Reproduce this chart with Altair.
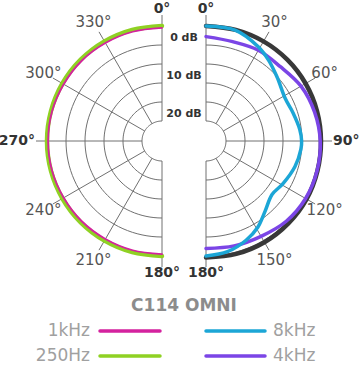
import altair as alt
import pandas as pd

# ---------------- data ----------------
ANG_LEFT = [180, 195, 210, 225, 240, 255, 270, 285, 300, 315, 330, 345, 360]
DB_250HZ = [0.0, 0.0, 0.0, 0.0, 0.0, 0.0, 0.0, 0.0, 0.0, 0.0, 0.0, 0.0, 0.0]
DB_1KHZ = [-0.5, -0.5, -0.5, -0.4, -0.4, -0.3, -0.3, -0.3, -0.4, -0.4, -0.5, -0.5, -0.5]

ANG_RIGHT = [0, 15, 30, 45, 60, 75, 90, 105, 120, 135, 150, 165, 180]
DB_4KHZ = [-2.8, -3.2, -2.7, -2.6, -1.4, -0.7, -0.2, 0.0, 0.0, -0.4, -1.3, -1.7, -2.0]
DB_REF = [0.0, 0.0, 0.0, 0.0, 0.0, 0.0, 0.0, 0.1, 0.3, 0.4, 0.5, 0.5, 0.4]

ANG_8KHZ = [0, 15, 29, 38, 48, 62, 72, 83, 90, 95, 106, 119, 129, 140, 149, 158, 169, 180]
DB_8KHZ = [0.0, -0.1, -1.9, -3.4, -5.1, -6.6, -6.2, -5.4, -5.1, -5.2, -5.9, -7.1, -7.9,
           -6.1, -3.8, -2.1, -0.6, 0.0]

RING_DB = [0, -5, -10, -15, -20, -25]
SPOKES_LEFT = [180, 210, 240, 270, 300, 330, 360]
SPOKES_RIGHT = [0, 30, 60, 90, 120, 150, 180]
LABELS_LEFT = ["180°", "210°", "240°", "270°", "300°", "330°", "0°"]
LABELS_RIGHT = ["0°", "30°", "60°", "90°", "120°", "150°", "180°"]
DB_LABEL_TEXT = ["0 dB", "10 dB", "20 dB"]
DB_LABEL_LEVEL = [0, -10, -20]
TITLE = "C114 OMNI"

LEGEND_NAMES = ["1kHz", "250Hz", "8kHz", "4kHz"]
LEGEND_COLORS = ["#d4229e", "#8fd123", "#1ca6d6", "#7b45e6"]

# ---------------- layout constants ----------------
W, H = 362, 370
R0 = 115          # radius of 0 dB in px
PX_DB = 3.8       # px per dB
CX_OFF = 22       # half gap between halves
CY_TOP = 141      # centre y from top
XDOM = [-184, W - 184]
YDOM = [-(H - CY_TOP), CY_TOP]

xs = alt.Scale(domain=XDOM, nice=False, zero=False)
ys = alt.Scale(domain=YDOM, nice=False, zero=False)

polar_x = f"(datum.side == 'L' ? {-CX_OFF} : {CX_OFF}) + ({R0} + {PX_DB} * datum.db) * sin(datum.ang * PI / 180)"
polar_y = f"({R0} + {PX_DB} * datum.db) * cos(datum.ang * PI / 180)"
cxe = f"(datum.side == 'L' ? {-CX_OFF} : {CX_OFF})"

# ---------------- grid rings ----------------
ring_rows = []
for side, a0 in (("L", 180), ("R", 0)):
    for rdb in RING_DB:
        for k in range(0, 61):
            ring_rows.append({"side": side, "ring": rdb, "ang": a0 + 3 * k, "db": rdb, "k": k})
rings = alt.Chart(pd.DataFrame(ring_rows)).transform_calculate(
    px=polar_x, py=polar_y
).mark_line(color="#707070", strokeWidth=1).encode(
    x=alt.X("px:Q", scale=xs, axis=None),
    y=alt.Y("py:Q", scale=ys, axis=None),
    detail=["side:N", "ring:Q"],
    order="k:Q",
)

# ---------------- spokes ----------------
spoke_rows = []
for a in SPOKES_LEFT:
    spoke_rows.append({"side": "L", "ang": a})
for a in SPOKES_RIGHT:
    spoke_rows.append({"side": "R", "ang": a})
R_IN = R0 + PX_DB * RING_DB[-1]
R_OUT = 126
spokes = alt.Chart(pd.DataFrame(spoke_rows)).transform_calculate(
    x1=f"{cxe} + {R_IN} * sin(datum.ang * PI / 180)",
    y1=f"{R_IN} * cos(datum.ang * PI / 180)",
    x2=f"{cxe} + {R_OUT} * sin(datum.ang * PI / 180)",
    y2=f"{R_OUT} * cos(datum.ang * PI / 180)",
).mark_rule(color="#707070", strokeWidth=1).encode(
    x=alt.X("x1:Q", scale=xs, axis=None),
    y=alt.Y("y1:Q", scale=ys, axis=None),
    x2="x2:Q",
    y2="y2:Q",
)

# ---------------- angle labels ----------------
lab_rows = []
for a, t in zip(SPOKES_LEFT, LABELS_LEFT):
    lab_rows.append({"side": "L", "ang": a, "t": t})
for a, t in zip(SPOKES_RIGHT, LABELS_RIGHT):
    lab_rows.append({"side": "R", "ang": a, "t": t})
lab_df = pd.DataFrame(lab_rows)
lab_df["card"] = lab_df["ang"] % 90 == 0
lab_df["vert"] = lab_df["ang"] % 180 == 0

def label_layer(filter_expr, radius, align, weight, size, color):
    return alt.Chart(lab_df).transform_filter(filter_expr).transform_calculate(
        lx=f"{cxe} + {radius} * sin(datum.ang * PI / 180)",
        ly=f"{radius} * cos(datum.ang * PI / 180)",
    ).mark_text(align=align, baseline="middle", font="DejaVu Sans", fontSize=size,
                fontWeight=weight, color=color).encode(
        x=alt.X("lx:Q", scale=xs, axis=None),
        y=alt.Y("ly:Q", scale=ys, axis=None),
        text="t:N",
    )

lab_diag = label_layer("!datum.card", 137, "center", "normal", 15, "#555555")
lab_vert = label_layer("datum.vert", 132, "center", "bold", 14, "#333333")
lab_90 = label_layer("datum.card && !datum.vert && datum.side == 'R'", 127, "left", "bold", 14, "#333333")
lab_270 = label_layer("datum.card && !datum.vert && datum.side == 'L'", 127, "right", "bold", 14, "#333333")

# ---------------- dB labels ----------------
db_df = pd.DataFrame({"t": DB_LABEL_TEXT, "db": DB_LABEL_LEVEL})
db_labels = alt.Chart(db_df).transform_calculate(
    ly=f"{R0} + {PX_DB} * datum.db - 12", lx="0"
).mark_text(align="center", baseline="middle", font="DejaVu Sans", fontSize=11,
            fontWeight="bold", color="#333333").encode(
    x=alt.X("lx:Q", scale=xs, axis=None),
    y=alt.Y("ly:Q", scale=ys, axis=None),
    text="t:N",
)

# ---------------- response curves ----------------
def series_df(name, side, angs, dbs):
    return pd.DataFrame({"series": name, "side": side, "ang": angs, "db": dbs})

def curve(df, color, width):
    return alt.Chart(df).transform_calculate(px=polar_x, py=polar_y).mark_line(
        color=color, strokeWidth=width, interpolate="catmull-rom", strokeCap="round"
    ).encode(
        x=alt.X("px:Q", scale=xs, axis=None),
        y=alt.Y("py:Q", scale=ys, axis=None),
        order="ang:Q",
    )

c250 = curve(series_df("250Hz", "L", ANG_LEFT, DB_250HZ), "#8fd123", 4.5)
c1k = curve(series_df("1kHz", "L", ANG_LEFT, DB_1KHZ), "#d4229e", 1.8)
cref = curve(series_df("ref", "R", ANG_RIGHT, DB_REF), "#383838", 4.5)
c4k = curve(series_df("4kHz", "R", ANG_RIGHT, DB_4KHZ), "#7b45e6", 3.5)
c8k = curve(series_df("8kHz", "R", ANG_8KHZ, DB_8KHZ), "#1ca6d6", 3.5)

# ---------------- title ----------------
title = alt.Chart(pd.DataFrame({"t": [TITLE]})).transform_calculate(
    lx="0", ly="-165"
).mark_text(align="center", baseline="middle", font="DejaVu Sans", fontSize=17,
            fontWeight="bold", color="#8c8c8c").encode(
    x=alt.X("lx:Q", scale=xs, axis=None),
    y=alt.Y("ly:Q", scale=ys, axis=None),
    text="t:N",
)

# ---------------- legend ----------------
leg = pd.DataFrame({
    "name": LEGEND_NAMES,
    "color": LEGEND_COLORS,
    "col": [0, 0, 1, 1],
    "row": [0, 1, 0, 1],
})
leg["ly"] = -190 - 25 * leg["row"]
leg["lx1"] = leg["col"].map({0: -84, 1: 22})
leg["lx2"] = leg["col"].map({0: -24, 1: 81})
leg["tx"] = leg["col"].map({0: -94, 1: 89})

leg_lines = alt.Chart(leg).mark_rule(strokeWidth=3.5, strokeCap="round").encode(
    x=alt.X("lx1:Q", scale=xs, axis=None),
    x2="lx2:Q",
    y=alt.Y("ly:Q", scale=ys, axis=None),
    color=alt.Color("color:N", scale=None),
)
leg_text_l = alt.Chart(leg).transform_filter("datum.col == 0").mark_text(
    align="right", baseline="middle", font="DejaVu Sans", fontSize=17, color="#a0a0a0"
).encode(x=alt.X("tx:Q", scale=xs, axis=None), y=alt.Y("ly:Q", scale=ys, axis=None), text="name:N")
leg_text_r = alt.Chart(leg).transform_filter("datum.col == 1").mark_text(
    align="left", baseline="middle", font="DejaVu Sans", fontSize=17, color="#a0a0a0"
).encode(x=alt.X("tx:Q", scale=xs, axis=None), y=alt.Y("ly:Q", scale=ys, axis=None), text="name:N")

chart = alt.layer(
    rings, spokes, lab_diag, lab_vert, lab_90, lab_270, db_labels,
    c250, c1k, cref, c4k, c8k, title, leg_lines, leg_text_l, leg_text_r,
).properties(
    width=W, height=H, padding=0, autosize=alt.AutoSizeParams(type="none"),
    background="white",
).configure_view(stroke=None)

chart.save("out.html", embed_options={"renderer": "svg", "actions": False})
